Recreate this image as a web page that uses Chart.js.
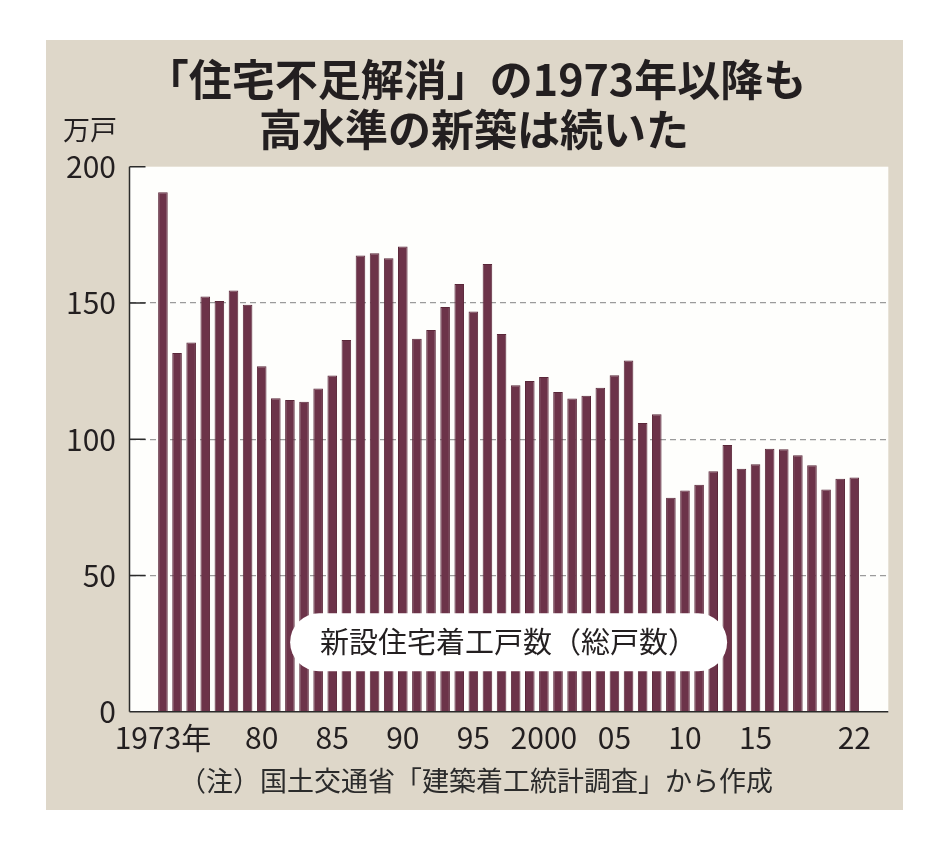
<!DOCTYPE html>
<html lang="ja">
<head>
<meta charset="utf-8">
<title>新設住宅着工戸数</title>
<script src="https://cdn.jsdelivr.net/npm/chart.js@4/dist/chart.umd.min.js"></script>
<style>
  html, body { margin: 0; padding: 0; background: #fff; }
  #wrap { width: 940px; height: 856px; }
</style>
</head>
<body>
<div id="wrap"><canvas id="houseChart"></canvas></div>
<script>
// 年
var years = [1973, 1974, 1975, 1976, 1977, 1978, 1979, 1980, 1981, 1982,
  1983, 1984, 1985, 1986, 1987, 1988, 1989, 1990, 1991, 1992,
  1993, 1994, 1995, 1996, 1997, 1998, 1999, 2000, 2001, 2002,
  2003, 2004, 2005, 2006, 2007, 2008, 2009, 2010, 2011, 2012,
  2013, 2014, 2015, 2016, 2017, 2018, 2019, 2020, 2021, 2022]

// 新設住宅着工戸数（万戸）
var starts = [190.6, 131.6, 135.5, 152.4, 150.7, 154.6, 149.3, 126.8, 115.0, 114.4,
  113.7, 118.6, 123.4, 136.4, 167.4, 168.2, 166.4, 170.7, 136.9, 140.1,
  148.5, 157.0, 146.9, 164.3, 138.6, 119.8, 121.4, 122.8, 117.3, 114.9,
  115.9, 118.9, 123.5, 128.9, 105.9, 109.2, 78.5, 81.2, 83.3, 88.2,
  97.9, 89.2, 90.8, 96.5, 96.3, 94.1, 90.4, 81.5, 85.5, 85.9]

// 横軸の目盛り
var tickYears = [1973, 1980, 1985, 1990, 1995, 2000, 2005, 2010, 2015, 2022]
var tickLabels = ['1973年', '80', '85', '90', '95', '2000', '05', '10', '15', '22']

// 縦軸の目盛り
var yTicks = [0, 50, 100, 150, 200]

var FONT = '"Noto Sans CJK JP", "Noto Sans", sans-serif'
var INK = '#231f20'

// 背景・軸・文字を描くプラグイン
var decor = {
  id: 'decor',
  beforeDraw: function (chart) {
    var c = chart.ctx, a = chart.chartArea
    c.save()
    // ベージュの枠
    c.fillStyle = '#ded7c9'
    c.fillRect(46, 40, 857, 770)
    // グラフ部分の白地
    c.fillStyle = '#fefefc'
    c.fillRect(a.left, a.top, a.right - a.left, a.bottom - a.top)
    c.restore()
  },
  afterDatasetsDraw: function (chart) {
    var c = chart.ctx, a = chart.chartArea
    var ys = chart.scales.y, xs = chart.scales.x
    c.save()
    // 軸線と内向きの目盛り線
    c.strokeStyle = '#2b2b2b'
    c.lineWidth = 1.5
    c.beginPath()
    c.moveTo(a.left, a.top)
    c.lineTo(a.left, a.bottom)
    c.moveTo(a.left, ys.getPixelForValue(0))
    c.lineTo(a.right, ys.getPixelForValue(0))
    yTicks.forEach(function (v) {
      var py = ys.getPixelForValue(v)
      c.moveTo(a.left, py)
      c.lineTo(a.left + 16, py)
    })
    c.stroke()

    // 系列名の白いラベル
    var cx = xs.getPixelForValue(1997.5)
    var cy = ys.getPixelForValue(25.5)
    var w = 437, h = 58, r = 29
    c.fillStyle = '#ffffff'
    c.beginPath()
    c.roundRect(cx - w / 2, cy - h / 2, w, h, r)
    c.fill()
    c.fillStyle = INK
    c.font = '400 29px ' + FONT
    c.textAlign = 'center'
    c.textBaseline = 'middle'
    c.fillText('新設住宅着工戸数（総戸数）', cx, cy)
    c.restore()
  },
  afterDraw: function (chart) {
    var c = chart.ctx
    c.save()
    c.fillStyle = INK
    c.textBaseline = 'middle'
    // 見出し
    c.textAlign = 'center'
    c.font = '700 43px ' + FONT
    c.fillText('「住宅不足解消」の1973年以降も', 476, 80)
    c.fillText('高水準の新築は続いた', 474, 130)
    // 単位
    c.textAlign = 'left'
    c.font = '400 27px ' + FONT
    c.fillText('万戸', 63, 130)
    // 注記
    c.textAlign = 'center'
    c.fillStyle = '#2b2b2b'
    c.font = '400 27px ' + FONT
    c.fillText('（注）国土交通省「建築着工統計調査」から作成', 476, 781)
    c.restore()
  }
}

var ctx = document.getElementById('houseChart').getContext('2d')

var houseChart = new Chart(ctx, {
  type: 'bar',
  data: {
    datasets: [{
      label: '新設住宅着工戸数（総戸数）',
      data: years.map(function (y, i) { return { x: y, y: starts[i] } }),
      backgroundColor: '#6c3349',
      borderColor: '#5a2739',
      borderWidth: 1,
      barPercentage: 0.68,
      categoryPercentage: 1
    }]
  },
  plugins: [decor],
  options: {
    responsive: true,
    maintainAspectRatio: false,
    animation: false,
    layout: {
      padding: { top: 166.7, left: 46, right: 51.7, bottom: 100 }
    },
    plugins: {
      legend: { display: false },
      tooltip: { enabled: false }
    },
    scales: {
      x: {
        type: 'linear',
        offset: false,
        min: 1970.63,
        max: 2024.41,
        grid: { display: false, drawTicks: false, offset: false },
        border: { display: false },
        afterBuildTicks: function (scale) {
          scale.ticks = tickYears.map(function (v) { return { value: v } })
        },
        afterFit: function (scale) { scale.height = 44.3 },
        ticks: {
          autoSkip: false,
          maxRotation: 0,
          padding: 8,
          color: INK,
          font: { family: FONT, size: 30 },
          callback: function (v) { return tickLabels[tickYears.indexOf(v)] }
        }
      },
      y: {
        min: 0,
        max: 200,
        afterBuildTicks: function (scale) {
          scale.ticks = yTicks.map(function (v) { return { value: v } })
        },
        afterFit: function (scale) { scale.width = 83.5 },
        grid: {
          drawTicks: false,
          lineWidth: 1.3,
          color: function (c) {
            var v = c.tick && c.tick.value
            return (v === 50 || v === 100 || v === 150) ? '#9b9b9b' : 'transparent'
          }
        },
        border: { display: false, dash: [6, 4] },
        ticks: {
          padding: 13.5,
          color: INK,
          font: { family: FONT, size: 30 }
        }
      }
    }
  }
})
</script>
</body>
</html>
